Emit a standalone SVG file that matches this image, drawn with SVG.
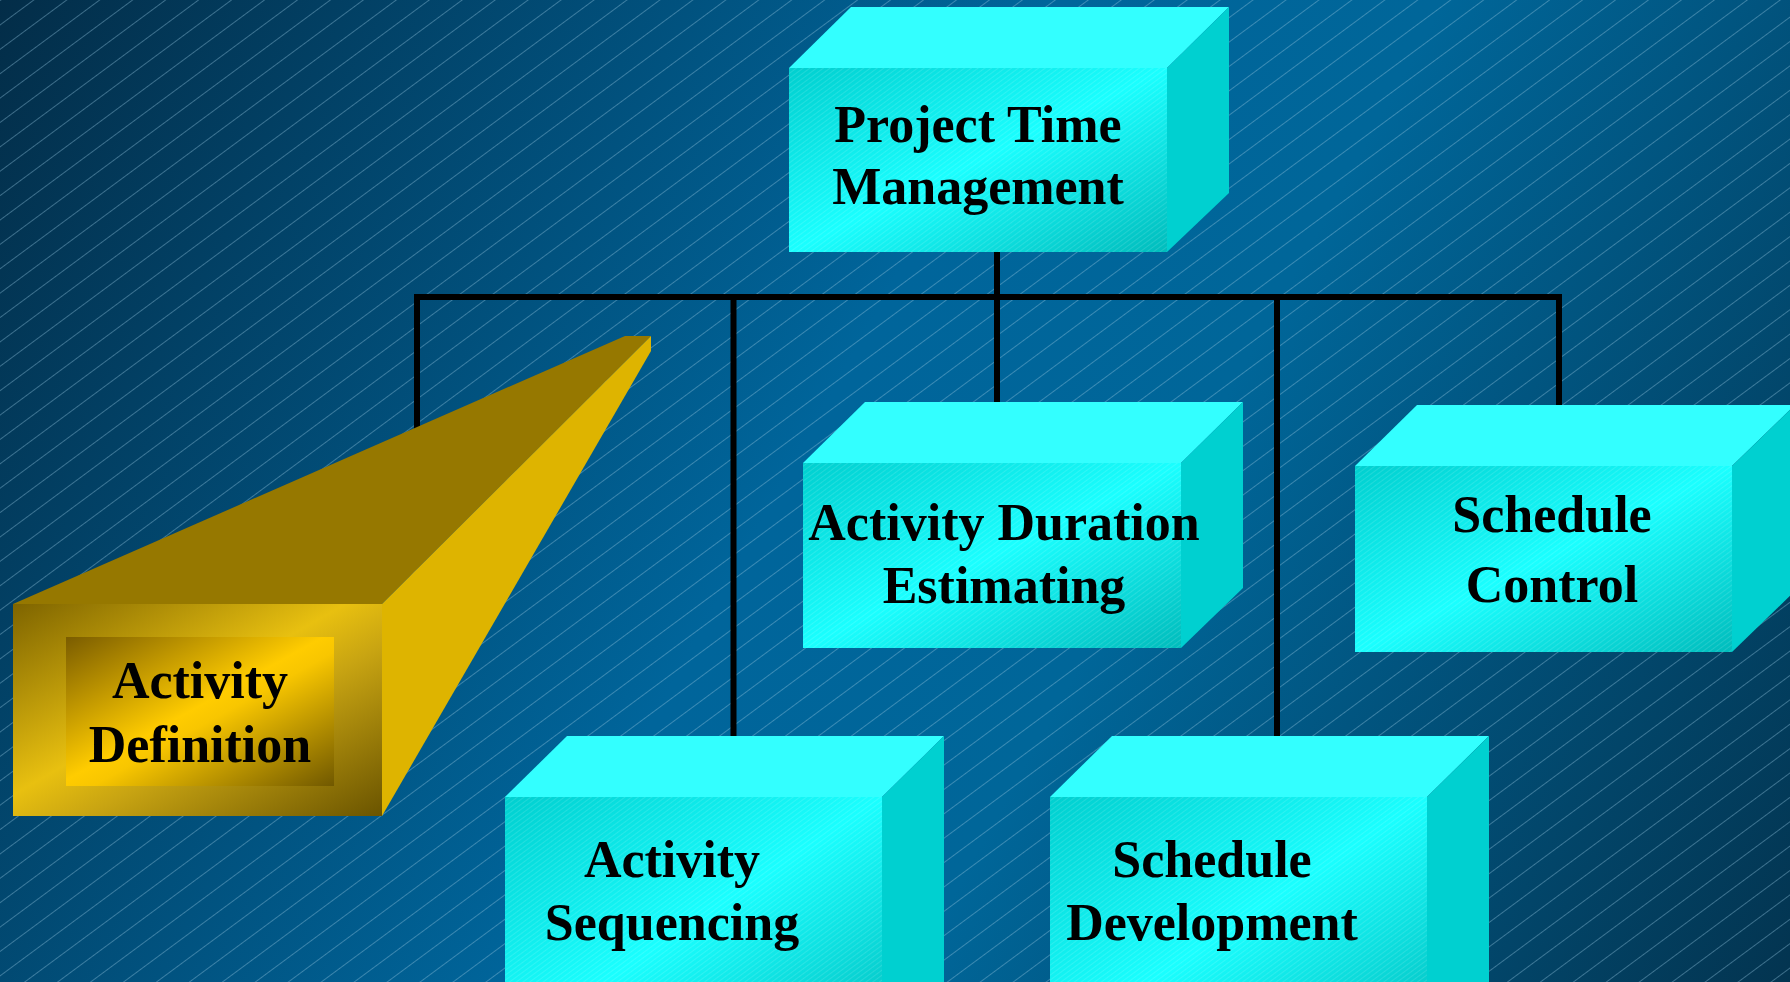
<svg xmlns="http://www.w3.org/2000/svg" width="1790" height="982" viewBox="0 0 1790 982">
  <defs>
    <linearGradient id="bg" x1="0" y1="0" x2="1790" y2="982" gradientUnits="userSpaceOnUse">
      <stop offset="0" stop-color="#032d48"/>
      <stop offset="0.45" stop-color="#00659b"/>
      <stop offset="0.62" stop-color="#006699"/>
      <stop offset="1" stop-color="#033450"/>
    </linearGradient>
    <pattern id="stripes" patternUnits="userSpaceOnUse" width="40" height="19.6" patternTransform="rotate(-36.5)">
      <line x1="0" y1="0.5" x2="40" y2="0.5" stroke="#8fc0dc" stroke-opacity="0.42" stroke-width="1"/>
    </pattern>
    <pattern id="fine" patternUnits="userSpaceOnUse" width="20" height="4" patternTransform="rotate(-36.5)">
      <line x1="0" y1="0.5" x2="20" y2="0.5" stroke="#ffffff" stroke-opacity="0.12" stroke-width="1"/>
    </pattern>
    <linearGradient id="cyanFront" x1="0" y1="0" x2="1" y2="1">
      <stop offset="0" stop-color="#00cfcf"/>
      <stop offset="0.5" stop-color="#1affff"/>
      <stop offset="1" stop-color="#00bcbc"/>
    </linearGradient>
    <linearGradient id="goldOuter" x1="0" y1="0" x2="1" y2="1">
      <stop offset="0" stop-color="#7e6400"/>
      <stop offset="0.45" stop-color="#e8c010"/>
      <stop offset="0.6" stop-color="#c8a412"/>
      <stop offset="1" stop-color="#6a5400"/>
    </linearGradient>
    <linearGradient id="goldInner" x1="0" y1="0" x2="1" y2="1">
      <stop offset="0" stop-color="#7a5c00"/>
      <stop offset="0.48" stop-color="#ffcc00"/>
      <stop offset="0.55" stop-color="#f8c600"/>
      <stop offset="1" stop-color="#705800"/>
    </linearGradient>
    <style>
      .top { fill: #33ffff; }
      .side { fill: #00d0d0; }
      .front { fill: url(#cyanFront); }
      .finefill { fill: url(#fine); }
      .lbl { font-family: "Liberation Serif", "Times New Roman", serif; font-weight: bold; font-size: 52px; fill: #000; text-anchor: middle; }
      .conn { stroke: #000; stroke-width: 6; fill: none; }
    </style>
  </defs>

  <rect x="0" y="0" width="1790" height="982" fill="url(#bg)"/>
  <rect x="0" y="0" width="1790" height="982" fill="url(#stripes)"/>

  <g id="connectors">
    <line class="conn" x1="997" y1="250" x2="997" y2="297"/>
    <line class="conn" x1="414" y1="297" x2="1562" y2="297"/>
    <line class="conn" x1="417" y1="294" x2="417" y2="440"/>
    <line class="conn" x1="733.5" y1="297" x2="733.5" y2="740"/>
    <line class="conn" x1="997" y1="297" x2="997" y2="405"/>
    <line class="conn" x1="1277" y1="297" x2="1277" y2="740"/>
    <line class="conn" x1="1559" y1="297" x2="1559" y2="407"/>
  </g>

  <g id="node-project-time-management">
    <polygon class="top" points="789,68 851,7 1229,7 1167,68"/>
    <polygon class="side" points="1167,68 1229,7 1229,193 1167,252"/>
    <rect class="front" x="789" y="68" width="378" height="184"/>
    <rect class="finefill" x="789" y="68" width="378" height="184"/>
    <text class="lbl" x="978" y="142">Project Time</text>
    <text class="lbl" x="978" y="204">Management</text>
  </g>

  <g id="node-activity-duration-estimating">
    <polygon class="top" points="803,463 865,402 1243,402 1181,463"/>
    <polygon class="side" points="1181,463 1243,402 1243,588 1181,648"/>
    <rect class="front" x="803" y="463" width="378" height="185"/>
    <rect class="finefill" x="803" y="463" width="378" height="185"/>
    <text class="lbl" x="1004" y="540">Activity Duration</text>
    <text class="lbl" x="1004" y="603">Estimating</text>
  </g>

  <g id="node-schedule-control">
    <polygon class="top" points="1355,466 1417,405 1795,405 1732,466"/>
    <polygon class="side" points="1732,466 1795,405 1795,591 1732,652"/>
    <rect class="front" x="1355" y="466" width="377" height="186"/>
    <rect class="finefill" x="1355" y="466" width="377" height="186"/>
    <text class="lbl" x="1552" y="532">Schedule</text>
    <text class="lbl" x="1552" y="602">Control</text>
  </g>

  <g id="node-activity-sequencing">
    <polygon class="top" points="505,797 567,736 944,736 882,797"/>
    <polygon class="side" points="882,797 944,736 944,990 882,1050"/>
    <rect class="front" x="505" y="797" width="377" height="250"/>
    <rect class="finefill" x="505" y="797" width="377" height="250"/>
    <text class="lbl" x="672" y="877">Activity</text>
    <text class="lbl" x="672" y="940">Sequencing</text>
  </g>

  <g id="node-schedule-development">
    <polygon class="top" points="1050,797 1112,736 1489,736 1427,797"/>
    <polygon class="side" points="1427,797 1489,736 1489,990 1427,1050"/>
    <rect class="front" x="1050" y="797" width="377" height="250"/>
    <rect class="finefill" x="1050" y="797" width="377" height="250"/>
    <text class="lbl" x="1212" y="877">Schedule</text>
    <text class="lbl" x="1212" y="940">Development</text>
  </g>

  <g id="node-activity-definition">
    <polygon fill="#967800" points="13,604 625,336 651,336 382,604"/>
    <polygon fill="#deb400" points="382,604 651,336 651,351 382,816"/>
    <rect x="13" y="604" width="369" height="212" fill="url(#goldOuter)"/>
    <rect x="66" y="637" width="268" height="149" fill="url(#goldInner)"/>
    <text class="lbl" x="200" y="698">Activity</text>
    <text class="lbl" x="200" y="762">Definition</text>
  </g>
</svg>
